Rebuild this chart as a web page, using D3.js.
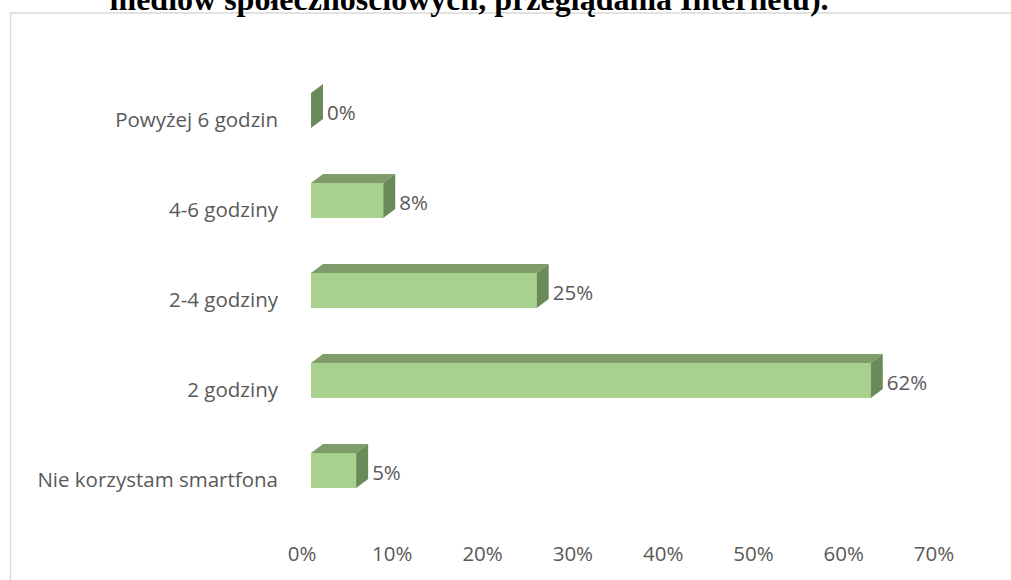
<!DOCTYPE html>
<html>
<head>
<meta charset="utf-8">
<script src="https://cdn.jsdelivr.net/npm/d3@7"></script>
<style>
  html, body { margin: 0; padding: 0; background: #fff; }
  svg { display: block; }
</style>
</head>
<body>
<svg id="chart" width="1011" height="580"></svg>
<script>
const titleText = "mediów społecznościowych, przeglądania Internetu).";
const categories = ["Powyżej 6 godzin", "4-6 godziny", "2-4 godziny", "2 godziny", "Nie korzystam smartfona"];
const values = [0, 8, 25, 62, 5];
const valueLabels = ["0%", "8%", "25%", "62%", "5%"];
const ticks = [0, 10, 20, 30, 40, 50, 60, 70];
const tickLabels = ["0%", "10%", "20%", "30%", "40%", "50%", "60%", "70%"];

const svg = d3.select("#chart");
const font = "'Open Sans', sans-serif";
const fs = 20.5;
const textColor = "#595959";

// frame
svg.append("rect")
  .attr("x", 10.5).attr("y", 13)
  .attr("width", 1010).attr("height", 600)
  .attr("fill", "none").attr("stroke", "#d9d9d9").attr("stroke-width", 1.5);

// cut-off title (only its lower part is visible in the reference)
svg.append("text")
  .attr("x", 469).attr("y", 10)
  .attr("text-anchor", "middle")
  .attr("font-family", "'Liberation Serif', 'Times New Roman', serif")
  .attr("font-weight", "bold")
  .attr("font-size", 32)
  .attr("fill", "#000")
  .text(titleText);

const x = d3.scaleLinear().domain([0, 70]).range([311, 943]);
const y = d3.scalePoint().domain(categories).range([110.5, 470.5]);
const barH = 35, dx = 12, dy = 9;

const frontColor = "#a9d18e", topColor = "#7f9d6b", sideColor = "#6b8a59";

const g = svg.append("g");
const bars = g.selectAll("g.bar").data(categories.map((c, i) => ({c, v: values[i], l: valueLabels[i]})))
  .enter().append("g").attr("class", "bar");

bars.each(function(d) {
  const sel = d3.select(this);
  const x0 = x(0), x1 = x(d.v);
  const yt = y(d.c) - barH / 2, yb = y(d.c) + barH / 2;
  if (x1 - x0 > 0.5) {
    sel.append("path")
      .attr("d", `M${x0},${yt} L${x0 + dx},${yt - dy} L${x1 + dx},${yt - dy} L${x1},${yt} Z`)
      .attr("fill", topColor);
    sel.append("rect")
      .attr("x", x0).attr("y", yt).attr("width", x1 - x0).attr("height", barH)
      .attr("fill", frontColor);
  }
  sel.append("path")
    .attr("d", `M${x1},${yt} L${x1 + dx},${yt - dy} L${x1 + dx},${yb - dy} L${x1},${yb} Z`)
    .attr("fill", sideColor);
  sel.append("text")
    .attr("x", x1 + dx + 4).attr("y", y(d.c) + 9)
    .attr("font-family", font).attr("font-size", fs)
    .attr("fill", textColor)
    .text(d.l);
});

svg.append("g").selectAll("text").data(categories).enter().append("text")
  .attr("x", 278).attr("y", d => y(d) + 16.5)
  .attr("text-anchor", "end")
  .attr("font-family", font).attr("font-size", fs)
  .attr("fill", textColor)
  .text(d => d);

svg.append("g").selectAll("text").data(ticks).enter().append("text")
  .attr("x", (d) => x(d) - 9).attr("y", 561)
  .attr("text-anchor", "middle")
  .attr("font-family", font).attr("font-size", fs)
  .attr("fill", textColor)
  .text((d, i) => tickLabels[i]);
</script>
</body>
</html>
